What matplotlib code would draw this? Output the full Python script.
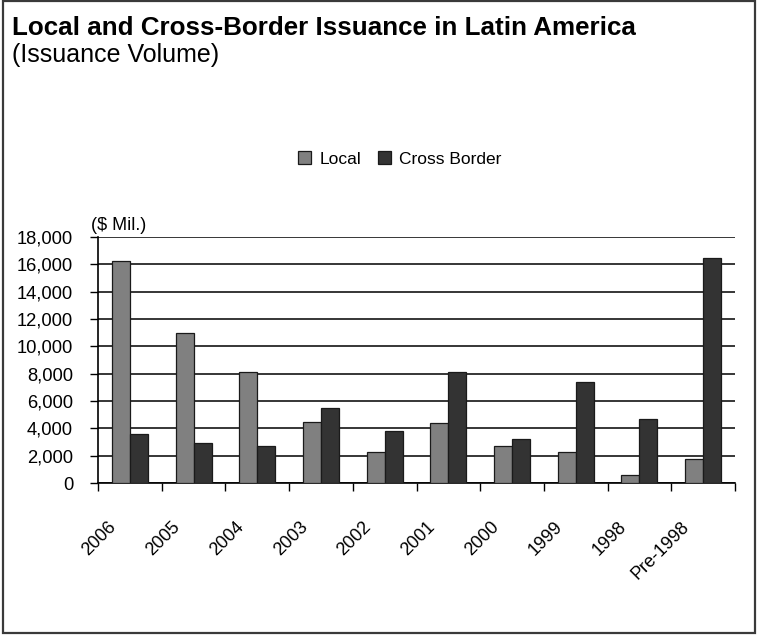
import matplotlib
matplotlib.use("Agg")
import matplotlib.pyplot as plt
import matplotlib.transforms as mtransforms
from matplotlib.patches import Rectangle
import numpy as np


YEARS = ["2006", "2005", "2004", "2003", "2002", "2001", "2000", "1999", "1998", "Pre-1998"]
LOCAL = [16250, 11000, 8100, 4500, 2300, 4400, 2700, 2300, 560, 1750]
CROSS_BORDER = [3600, 2900, 2700, 5500, 3800, 8100, 3200, 7400, 4650, 16500]
Y_TICKS = [0, 2000, 4000, 6000, 8000, 10000, 12000, 14000, 16000, 18000]

LOCAL_COLOR = "#808080"
CROSS_COLOR = "#333333"

plt.rcParams["font.family"] = ["Liberation Sans", "DejaVu Sans"]


def main() -> None:
    fig = plt.figure(figsize=(7.57, 6.39), dpi=100)
    fig.patch.set_facecolor("white")

    # outer frame round the whole chart
    fig.patches.append(Rectangle((3 / 757, 6 / 639), 752 / 757, 632 / 639,
                                 transform=fig.transFigure, fill=False,
                                 edgecolor="#3a3a3a", linewidth=1.6, zorder=0))

    fig.text(12 / 757, 1 - 35 / 639, "Local and Cross-Border Issuance in Latin America",
             fontsize=18.7, fontweight="bold", va="baseline", ha="left")
    fig.text(12 / 757, 1 - 62 / 639, "(Issuance Volume)",
             fontsize=18, va="baseline", ha="left")

    ax = fig.add_axes([98 / 757, 1 - 483 / 639, 637 / 757, 246 / 639])
    x = np.arange(len(YEARS))
    width = 0.283
    ax.bar(x - width / 2, LOCAL, width, color=LOCAL_COLOR, edgecolor="#1a1a1a",
           linewidth=0.9, label="Local", zorder=3)
    ax.bar(x + width / 2, CROSS_BORDER, width, color=CROSS_COLOR, edgecolor="#1a1a1a",
           linewidth=0.9, label="Cross Border", zorder=3)

    ax.set_xlim(-0.5, len(YEARS) - 0.5)
    ax.set_ylim(0, 18000)
    ax.set_yticks(Y_TICKS)
    ax.set_yticklabels([f"{v:,}" for v in Y_TICKS], fontsize=13.2)
    ax.yaxis.grid(True, color="black", linewidth=1.1)
    ax.set_axisbelow(True)

    ax.set_xticks(np.arange(len(YEARS) + 1) - 0.5)
    ax.set_xticklabels([])
    ax.tick_params(axis="x", direction="out", length=6, width=1, color="black")
    ax.tick_params(axis="y", direction="out", length=6, width=1, color="black", pad=12)

    for side in ("top", "right"):
        ax.spines[side].set_visible(False)
    for side in ("left", "bottom"):
        ax.spines[side].set_color("black")
        ax.spines[side].set_linewidth(1.2)

    # rotated category labels, set below and left of each group
    offset = mtransforms.ScaledTranslation(-0.16, -0.41, fig.dpi_scale_trans)
    for i, year in enumerate(YEARS):
        ax.text(i, 0, year, transform=ax.get_xaxis_transform() + offset,
                rotation=45, rotation_mode="anchor", ha="right", va="center",
                fontsize=13)

    ax.text(91 / 757, 1 - 230 / 639, "($ Mil.)", transform=fig.transFigure,
            fontsize=13, va="baseline", ha="left")

    fig.legend(loc="center", bbox_to_anchor=(400 / 757, 1 - 159 / 639), ncol=2,
               frameon=False, fontsize=12.5, handlelength=0.7, handleheight=0.8,
               handletextpad=0.5, columnspacing=1.0)

    fig.savefig("out.png", dpi=100, facecolor="white")
    plt.close(fig)


if __name__ == "__main__":
    main()
